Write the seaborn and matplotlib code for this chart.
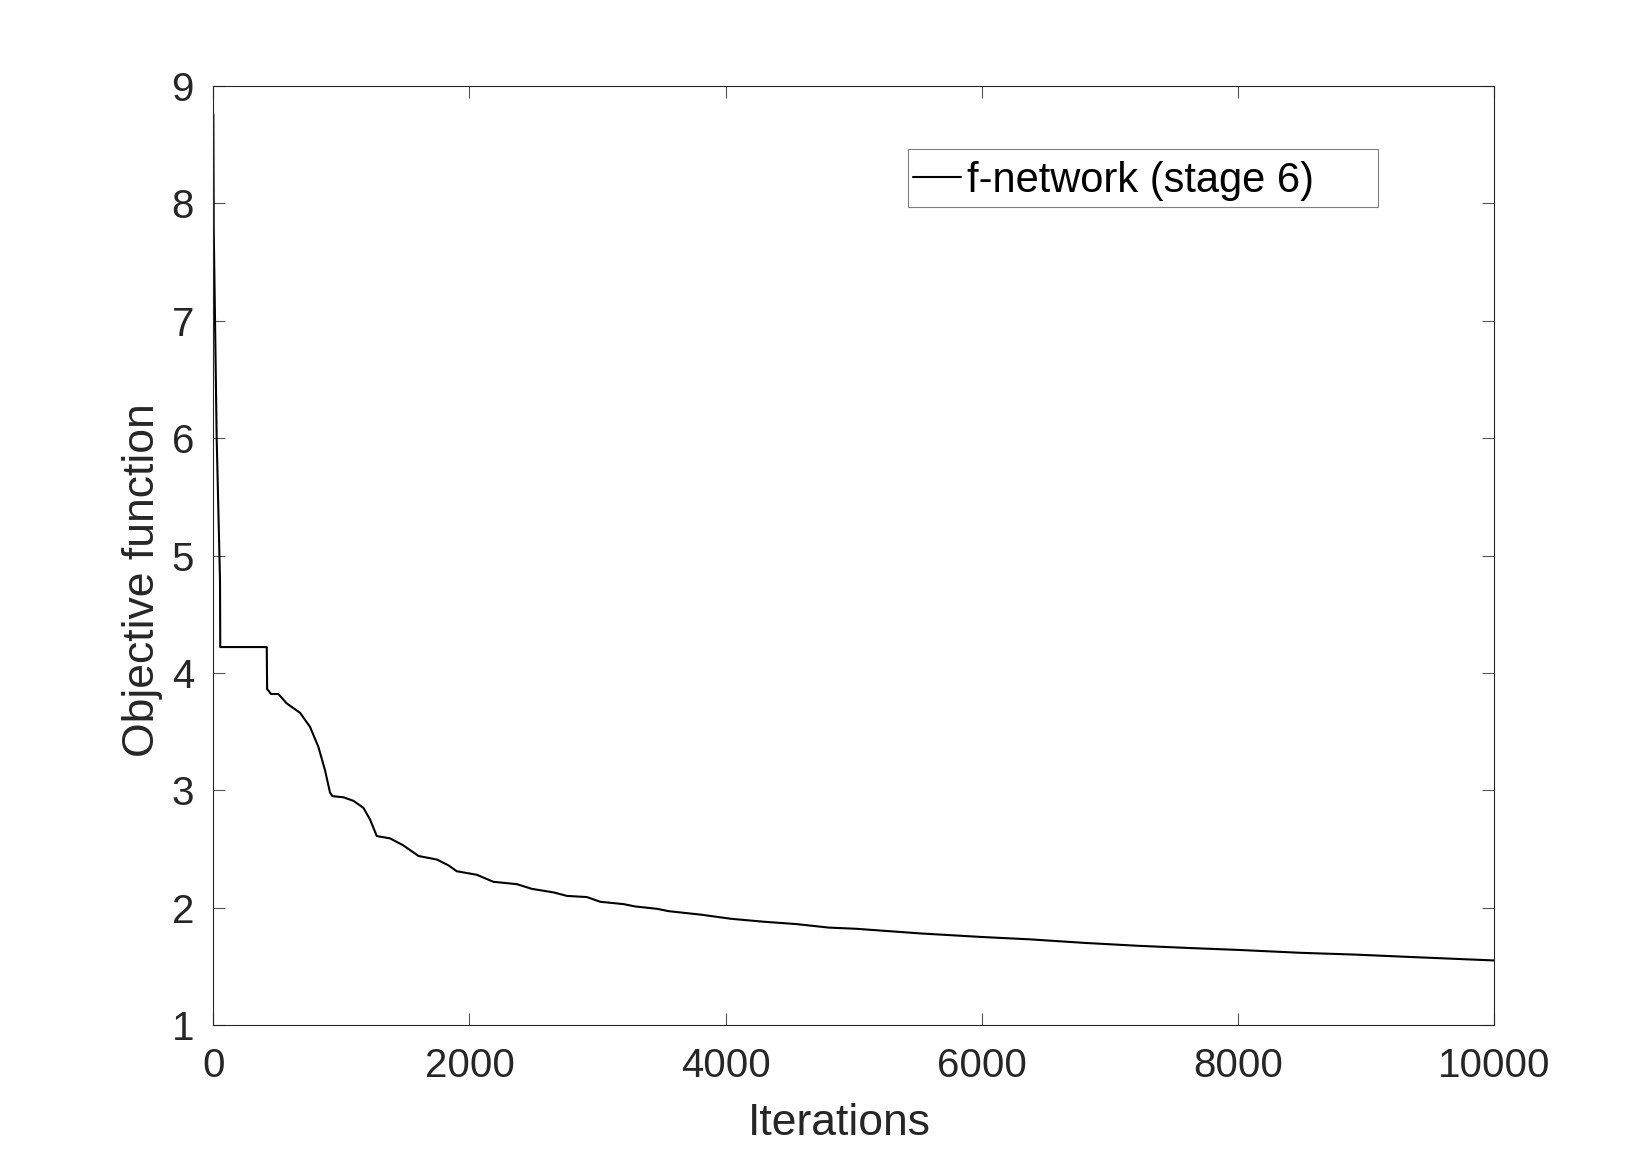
import numpy as np
import pandas as pd
import matplotlib
matplotlib.use("Agg")
import matplotlib.pyplot as plt
from matplotlib.patches import Rectangle
import seaborn as sns

# 數據
iterations = [0, 3, 26, 52, 54, 417, 420, 430, 450, 508, 573, 677, 755, 820, 872,
              911, 930, 1016, 1094, 1172, 1224, 1250, 1276, 1380, 1484, 1602, 1745,
              1836, 1901, 2057, 2187, 2370, 2487, 2656, 2761, 2917, 3021, 3203, 3294,
              3464, 3555, 3724, 3809, 4042, 4297, 4551, 4805, 5017, 5271, 5525, 6000,
              6373, 6797, 7220, 7644, 8000, 8492, 8915, 9339, 10000]
objective = [8.76, 7.78, 6.0, 4.79, 4.22, 4.22, 3.86, 3.85, 3.82, 3.82, 3.74, 3.66,
             3.54, 3.37, 3.17, 2.98, 2.95, 2.94, 2.91, 2.85, 2.75, 2.68, 2.61, 2.59,
             2.53, 2.44, 2.41, 2.36, 2.31, 2.28, 2.22, 2.20, 2.16, 2.13, 2.10, 2.09,
             2.05, 2.03, 2.01, 1.99, 1.97, 1.95, 1.94, 1.905, 1.88, 1.86, 1.83, 1.82,
             1.80, 1.78, 1.75, 1.73, 1.70, 1.675, 1.655, 1.64, 1.615, 1.60, 1.58, 1.55]
series_label = "f-network (stage 6)"
x_ticks = [0, 2000, 4000, 6000, 8000, 10000]
y_ticks = [1, 2, 3, 4, 5, 6, 7, 8, 9]

sns.set_style("ticks")
plt.rcParams['font.family'] = ['Liberation Sans', 'DejaVu Sans']
dark = '#262626'

df = pd.DataFrame({'Iterations': iterations, 'Objective function': objective})

fig = plt.figure(figsize=(16.5, 11.53), dpi=100)
ax = fig.add_axes([0.1293, 0.1110, 0.7762, 0.8144])

sns.lineplot(data=df, x='Iterations', y='Objective function', ax=ax,
             color='black', linewidth=1.5, sort=False, estimator=None,
             label=series_label)

ax.set_xlim(0, 10000)
ax.set_ylim(1, 9)
ax.set_xticks(x_ticks)
ax.set_yticks(y_ticks)
ax.tick_params(direction='in', top=True, right=True, length=8.5, width=0.8,
               color='#555555', labelsize=29, labelcolor=dark)
ax.tick_params(axis='x', pad=16)
ax.tick_params(axis='y', pad=14)
for s in ax.spines.values():
    s.set_visible(True)
    s.set_color(dark)
    s.set_linewidth(0.8)

ax.set_xlabel("Iterations", fontsize=32, color=dark, labelpad=13)
ax.set_ylabel("Objective function", fontsize=32, color=dark, labelpad=6)
ax.xaxis.label.set_x(0.489)
ax.yaxis.label.set_y(0.474)

# 圖例 (MATLAB 風格外框)
ax.legend(loc='center left', bbox_to_anchor=(913 / 1650, 1 - 181 / 1153),
          bbox_transform=fig.transFigure, frameon=False, borderpad=0,
          borderaxespad=0, handlelength=1.15, handletextpad=0.15, fontsize=30,
          labelcolor='black')
fig.patches.append(Rectangle((907.7 / 1650, 1 - 206.7 / 1153),
                             (1378.3 - 907.7) / 1650, (206.7 - 149) / 1153,
                             transform=fig.transFigure, fill=False,
                             edgecolor='#808080', linewidth=0.8))

fig.savefig("out.png", dpi=100)
